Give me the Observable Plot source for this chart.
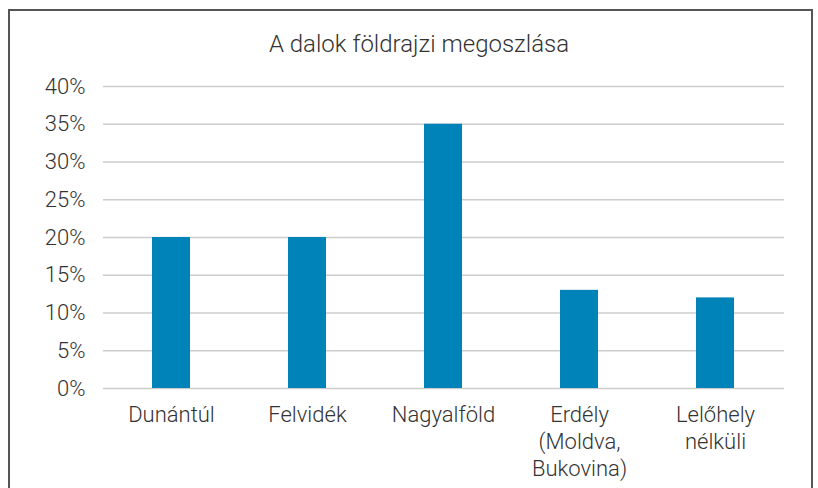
<!DOCTYPE html>
<html>
<head>
<meta charset="utf-8">
<script src="https://cdn.jsdelivr.net/npm/d3@7"></script>
<script src="https://cdn.jsdelivr.net/npm/@observablehq/plot@0.6"></script>
<style>
  body { margin: 0; background: #fff; font-family: Roboto, "DejaVu Sans", sans-serif; }
  #frame { position: absolute; left: 8px; top: 9px; width: 801px; height: 500px;
           border-left: 2px solid #555; border-top: 2px solid #555; border-right: 2px solid #555; }
  #title { position: absolute; left: 0; top: 30px; width: 838px; text-align: center;
           font-size: 24px; color: #333; font-weight: 300; }
  #chart { position: absolute; left: 0; top: 60px; }
</style>
</head>
<body>
<div id="frame"></div>
<div id="title">A dalok földrajzi megoszlása</div>
<div id="chart"></div>
<script>
const categories = ["Dunántúl", "Felvidék", "Nagyalföld", "Erdély\n(Moldva,\nBukovina)", "Lelőhely\nnélküli"];
const values = [20, 20, 35, 13, 12];
const yTicks = [0, 5, 10, 15, 20, 25, 30, 35, 40];

const data = categories.map((c, i) => ({category: c, value: values[i]}));

const chart = Plot.plot({
  width: 818,
  height: 428,
  marginTop: 26,
  marginBottom: 100,
  marginLeft: 103,
  marginRight: 34,
  style: {fontFamily: "Roboto, 'DejaVu Sans', sans-serif", fontSize: "22px", color: "#333", fontWeight: 300},
  x: {domain: categories, paddingInner: 0.72, paddingOuter: 0.36, align: 0.5},
  y: {domain: [0, 40]},
  marks: [
    Plot.gridY(yTicks, {stroke: "#cccccc", strokeOpacity: 1, strokeWidth: 1.5}),
    Plot.barY(data, {x: "category", y: "value", fill: "#0083b8"}),
    Plot.axisY(yTicks, {tickSize: 0, tickPadding: 18, tickFormat: d => d + "%", label: null, fontSize: 22}),
    Plot.axisX({tickSize: 0, tickPadding: 14, label: null, fontSize: 22, lineHeight: 1.24, lineAnchor: "top"})
  ]
});
document.getElementById("chart").appendChild(chart);
</script>
</body>
</html>
